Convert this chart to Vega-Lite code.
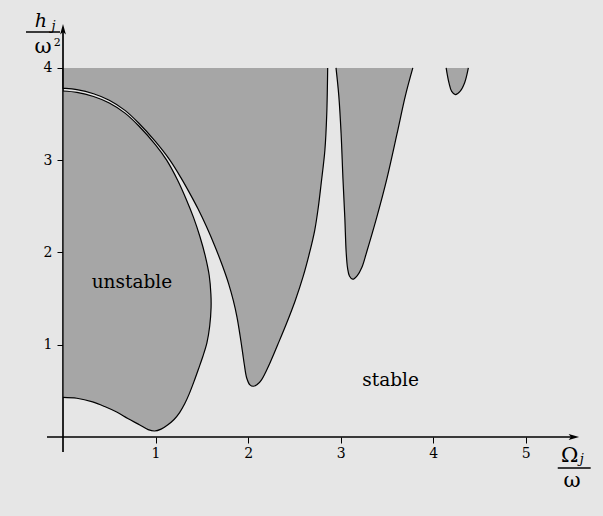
{
  "$schema": "https://vega.github.io/schema/vega-lite/v6.json",
  "width": 509,
  "height": 406,
  "autosize": {"type": "none"},
  "padding": {"left": 63, "top": 31, "right": 31, "bottom": 79},
  "background": "#e6e6e6",
  "config": {"view": {"stroke": null}, "font": "DejaVu Serif"},
  "datasets": {
    "poly": [
      {"r": "A", "i": 1, "x": 0.0, "h": 0.43},
      {"r": "A", "i": 2, "x": 0.15, "h": 0.42},
      {"r": "A", "i": 3, "x": 0.32, "h": 0.38},
      {"r": "A", "i": 4, "x": 0.45, "h": 0.33},
      {"r": "A", "i": 5, "x": 0.58, "h": 0.27},
      {"r": "A", "i": 6, "x": 0.70, "h": 0.20},
      {"r": "A", "i": 7, "x": 0.83, "h": 0.13},
      {"r": "A", "i": 8, "x": 0.92, "h": 0.08},
      {"r": "A", "i": 9, "x": 0.99, "h": 0.065},
      {"r": "A", "i": 10, "x": 1.06, "h": 0.085},
      {"r": "A", "i": 11, "x": 1.13, "h": 0.13},
      {"r": "A", "i": 12, "x": 1.20, "h": 0.19},
      {"r": "A", "i": 13, "x": 1.26, "h": 0.265},
      {"r": "A", "i": 14, "x": 1.315, "h": 0.36},
      {"r": "A", "i": 15, "x": 1.365, "h": 0.47},
      {"r": "A", "i": 16, "x": 1.415, "h": 0.60},
      {"r": "A", "i": 17, "x": 1.465, "h": 0.74},
      {"r": "A", "i": 18, "x": 1.51, "h": 0.87},
      {"r": "A", "i": 19, "x": 1.555, "h": 1.02},
      {"r": "A", "i": 20, "x": 1.585, "h": 1.2},
      {"r": "A", "i": 21, "x": 1.60, "h": 1.4},
      {"r": "A", "i": 22, "x": 1.598, "h": 1.55},
      {"r": "A", "i": 23, "x": 1.58, "h": 1.75},
      {"r": "A", "i": 24, "x": 1.54, "h": 1.95},
      {"r": "A", "i": 25, "x": 1.48, "h": 2.17},
      {"r": "A", "i": 26, "x": 1.41, "h": 2.38},
      {"r": "A", "i": 27, "x": 1.33, "h": 2.58},
      {"r": "A", "i": 28, "x": 1.24, "h": 2.78},
      {"r": "A", "i": 29, "x": 1.12, "h": 3.0},
      {"r": "A", "i": 30, "x": 1.0, "h": 3.165},
      {"r": "A", "i": 31, "x": 0.82, "h": 3.37},
      {"r": "A", "i": 32, "x": 0.67, "h": 3.51},
      {"r": "A", "i": 33, "x": 0.5, "h": 3.62},
      {"r": "A", "i": 34, "x": 0.33, "h": 3.69},
      {"r": "A", "i": 35, "x": 0.15, "h": 3.735},
      {"r": "A", "i": 36, "x": 0.0, "h": 3.75},
      {"r": "B", "i": 1, "x": 0.0, "h": 4.0},
      {"r": "B", "i": 2, "x": 0.0, "h": 3.79},
      {"r": "B", "i": 3, "x": 0.0, "h": 3.78},
      {"r": "B", "i": 4, "x": 0.03, "h": 3.779},
      {"r": "B", "i": 5, "x": 0.15, "h": 3.765},
      {"r": "B", "i": 6, "x": 0.33, "h": 3.72},
      {"r": "B", "i": 7, "x": 0.5, "h": 3.65},
      {"r": "B", "i": 8, "x": 0.67, "h": 3.54},
      {"r": "B", "i": 9, "x": 0.82, "h": 3.4},
      {"r": "B", "i": 10, "x": 1.0, "h": 3.2},
      {"r": "B", "i": 11, "x": 1.155, "h": 3.0},
      {"r": "B", "i": 12, "x": 1.28, "h": 2.8},
      {"r": "B", "i": 13, "x": 1.37, "h": 2.64},
      {"r": "B", "i": 14, "x": 1.46, "h": 2.47},
      {"r": "B", "i": 15, "x": 1.55, "h": 2.28},
      {"r": "B", "i": 16, "x": 1.64, "h": 2.07},
      {"r": "B", "i": 17, "x": 1.725, "h": 1.85},
      {"r": "B", "i": 18, "x": 1.79, "h": 1.66},
      {"r": "B", "i": 19, "x": 1.84, "h": 1.48},
      {"r": "B", "i": 20, "x": 1.88, "h": 1.30},
      {"r": "B", "i": 21, "x": 1.91, "h": 1.12},
      {"r": "B", "i": 22, "x": 1.94, "h": 0.92},
      {"r": "B", "i": 23, "x": 1.96, "h": 0.78},
      {"r": "B", "i": 24, "x": 1.985, "h": 0.64},
      {"r": "B", "i": 25, "x": 2.02, "h": 0.565},
      {"r": "B", "i": 26, "x": 2.055, "h": 0.55},
      {"r": "B", "i": 27, "x": 2.095, "h": 0.565},
      {"r": "B", "i": 28, "x": 2.145, "h": 0.62},
      {"r": "B", "i": 29, "x": 2.235, "h": 0.80},
      {"r": "B", "i": 30, "x": 2.32, "h": 1.0},
      {"r": "B", "i": 31, "x": 2.415, "h": 1.23},
      {"r": "B", "i": 32, "x": 2.51, "h": 1.48},
      {"r": "B", "i": 33, "x": 2.595, "h": 1.74},
      {"r": "B", "i": 34, "x": 2.665, "h": 2.0},
      {"r": "B", "i": 35, "x": 2.72, "h": 2.24},
      {"r": "B", "i": 36, "x": 2.76, "h": 2.5},
      {"r": "B", "i": 37, "x": 2.79, "h": 2.75},
      {"r": "B", "i": 38, "x": 2.83, "h": 3.11},
      {"r": "B", "i": 39, "x": 2.85, "h": 3.5},
      {"r": "B", "i": 40, "x": 2.86, "h": 4.0},
      {"r": "C", "i": 1, "x": 2.95, "h": 4.0},
      {"r": "C", "i": 2, "x": 2.98, "h": 3.7},
      {"r": "C", "i": 3, "x": 3.005, "h": 3.29},
      {"r": "C", "i": 4, "x": 3.025, "h": 2.8},
      {"r": "C", "i": 5, "x": 3.045, "h": 2.38},
      {"r": "C", "i": 6, "x": 3.06, "h": 2.0},
      {"r": "C", "i": 7, "x": 3.075, "h": 1.83},
      {"r": "C", "i": 8, "x": 3.095, "h": 1.745},
      {"r": "C", "i": 9, "x": 3.13, "h": 1.71},
      {"r": "C", "i": 10, "x": 3.18, "h": 1.75},
      {"r": "C", "i": 11, "x": 3.23, "h": 1.84},
      {"r": "C", "i": 12, "x": 3.28, "h": 2.0},
      {"r": "C", "i": 13, "x": 3.39, "h": 2.38},
      {"r": "C", "i": 14, "x": 3.50, "h": 2.8},
      {"r": "C", "i": 15, "x": 3.61, "h": 3.29},
      {"r": "C", "i": 16, "x": 3.70, "h": 3.7},
      {"r": "C", "i": 17, "x": 3.78, "h": 4.0},
      {"r": "D", "i": 1, "x": 4.14, "h": 4.0},
      {"r": "D", "i": 2, "x": 4.17, "h": 3.84},
      {"r": "D", "i": 3, "x": 4.20, "h": 3.745},
      {"r": "D", "i": 4, "x": 4.24, "h": 3.71},
      {"r": "D", "i": 5, "x": 4.29, "h": 3.745},
      {"r": "D", "i": 6, "x": 4.34, "h": 3.84},
      {"r": "D", "i": 7, "x": 4.38, "h": 4.0}
    ],
    "axes": [
      {"x": -0.173, "x2": 5.52, "h": 0, "h2": 0},
      {"x": 0, "x2": 0, "h": -0.163, "h2": 4.42}
    ],
    "arrows": [
      {"x": 0, "h": 4.42, "dir": "up"},
      {"x": 5.52, "h": 0, "dir": "right"}
    ],
    "words": [
      {"x": 0.745, "h": 1.614, "t": "unstable"},
      {"x": 3.54, "h": 0.553, "t": "stable"}
    ],
    "titles": [
      {"x": -0.238, "h": 4.442, "t": "h", "k": "h"},
      {"x": -0.103, "h": 4.41, "t": "j", "k": "sub"},
      {"x": -0.216, "h": 4.16, "t": "ω", "k": "big"},
      {"x": -0.062, "h": 4.236, "t": "2", "k": "sup"},
      {"x": 5.475, "h": -0.271, "t": "Ω", "k": "big"},
      {"x": 5.605, "h": -0.282, "t": "j", "k": "sub"},
      {"x": 5.502, "h": -0.542, "t": "ω", "k": "big"}
    ],
    "bars": [
      {"x": -0.40, "x2": -0.032, "h": 4.388},
      {"x": 5.346, "x2": 5.702, "h": -0.336}
    ]
  },
  "layer": [
    {
      "data": {"name": "axes"},
      "mark": {"type": "rule", "color": "black", "strokeWidth": 1.2},
      "encoding": {
        "x": {"field": "x", "type": "quantitative", "title": null,
              "scale": {"domain": [0, 5.5], "nice": false, "zero": false},
              "axis": {"values": [1, 2, 3, 4, 5], "format": "d", "domain": false, "grid": false,
                       "ticks": true, "tickSize": 6, "tickColor": "#000000", "tickWidth": 1,
                       "labelFont": "DejaVu Serif", "labelFontSize": 14, "labelColor": "#000000", "labelPadding": 3}},
        "x2": {"field": "x2"},
        "y": {"field": "h", "type": "quantitative", "title": null,
              "scale": {"domain": [0, 4.4], "nice": false, "zero": false},
              "axis": {"values": [1, 2, 3, 4], "format": "d", "domain": false, "grid": false,
                       "ticks": true, "tickSize": 6, "tickColor": "#000000", "tickWidth": 1,
                       "labelFont": "DejaVu Serif", "labelFontSize": 14, "labelColor": "#000000", "labelPadding": 5}},
        "y2": {"field": "h2"}
      }
    },
    {
      "data": {"name": "poly"},
      "mark": {"type": "line", "fill": "#a6a6a6", "stroke": "#000000", "strokeWidth": 1.2, "interpolate": "catmull-rom"},
      "encoding": {
        "x": {"field": "x", "type": "quantitative", "title": null},
        "y": {"field": "h", "type": "quantitative", "title": null},
        "detail": {"field": "r"},
        "order": {"field": "i", "type": "quantitative"}
      }
    },
    {
      "data": {"name": "axes"},
      "mark": {"type": "rule", "color": "black", "strokeWidth": 1.2},
      "encoding": {
        "x": {"field": "x", "type": "quantitative", "title": null},
        "x2": {"field": "x2"},
        "y": {"field": "h", "type": "quantitative", "title": null},
        "y2": {"field": "h2"}
      }
    },
    {
      "data": {"name": "arrows"},
      "mark": {"type": "point", "filled": true, "color": "black", "size": 110, "opacity": 1},
      "encoding": {
        "x": {"field": "x", "type": "quantitative", "title": null},
        "y": {"field": "h", "type": "quantitative", "title": null},
        "shape": {"field": "dir", "type": "nominal", "legend": null,
                  "scale": {"domain": ["up", "right"],
                            "range": ["M0,-1L0.55,1L0,0.55L-0.55,1Z", "M1,0L-1,-0.55L-0.55,0L-1,0.55Z"]}}
      }
    },
    {
      "data": {"name": "words"},
      "mark": {"type": "text", "font": "DejaVu Serif", "fontSize": 18.5, "color": "black", "align": "center", "baseline": "alphabetic"},
      "encoding": {
        "x": {"field": "x", "type": "quantitative", "title": null},
        "y": {"field": "h", "type": "quantitative", "title": null},
        "text": {"field": "t"}
      }
    },
    {
      "data": {"name": "titles"},
      "transform": [{"filter": "datum.k == 'h'"}],
      "mark": {"type": "text", "font": "DejaVu Serif", "fontStyle": "italic", "fontSize": 19, "color": "black", "align": "center", "baseline": "alphabetic"},
      "encoding": {
        "x": {"field": "x", "type": "quantitative", "title": null},
        "y": {"field": "h", "type": "quantitative", "title": null},
        "text": {"field": "t"}
      }
    },
    {
      "data": {"name": "titles"},
      "transform": [{"filter": "datum.k == 'big'"}],
      "mark": {"type": "text", "font": "DejaVu Serif", "fontSize": 21, "color": "black", "align": "center", "baseline": "alphabetic"},
      "encoding": {
        "x": {"field": "x", "type": "quantitative", "title": null},
        "y": {"field": "h", "type": "quantitative", "title": null},
        "text": {"field": "t"}
      }
    },
    {
      "data": {"name": "titles"},
      "transform": [{"filter": "datum.k == 'sub'"}],
      "mark": {"type": "text", "font": "DejaVu Serif", "fontStyle": "italic", "fontSize": 13, "color": "black", "align": "center", "baseline": "alphabetic"},
      "encoding": {
        "x": {"field": "x", "type": "quantitative", "title": null},
        "y": {"field": "h", "type": "quantitative", "title": null},
        "text": {"field": "t"}
      }
    },
    {
      "data": {"name": "titles"},
      "transform": [{"filter": "datum.k == 'sup'"}],
      "mark": {"type": "text", "font": "DejaVu Serif", "fontSize": 11, "color": "black", "align": "center", "baseline": "alphabetic"},
      "encoding": {
        "x": {"field": "x", "type": "quantitative", "title": null},
        "y": {"field": "h", "type": "quantitative", "title": null},
        "text": {"field": "t"}
      }
    },
    {
      "data": {"name": "bars"},
      "mark": {"type": "rule", "color": "black", "strokeWidth": 1.5},
      "encoding": {
        "x": {"field": "x", "type": "quantitative", "title": null},
        "x2": {"field": "x2"},
        "y": {"field": "h", "type": "quantitative", "title": null}
      }
    }
  ]
}
